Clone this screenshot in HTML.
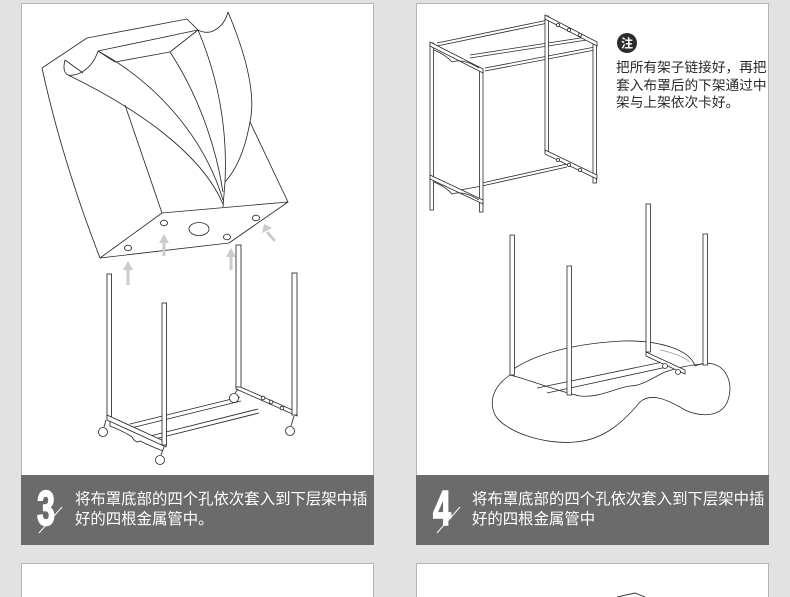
<!DOCTYPE html>
<html><head><meta charset="utf-8"><style>
html,body{margin:0;padding:0;background:#e2e2e2;}
svg{display:block;}
.t{font-family:"Liberation Sans","Noto Sans CJK SC",sans-serif;}
</style></head><body>
<svg width="790" height="597" viewBox="0 0 790 597" xmlns="http://www.w3.org/2000/svg">
<rect x="0" y="0" width="790" height="597" fill="#e2e2e2"/>
<!-- panels -->
<rect x="21.5" y="3.5" width="352" height="472" fill="#fff" stroke="#b4b4b4"/>
<rect x="416.5" y="3.5" width="352" height="472" fill="#fff" stroke="#b4b4b4"/>
<rect x="21" y="475" width="353" height="70" fill="#6b6b6b"/>
<rect x="416" y="475" width="353" height="70" fill="#6b6b6b"/>
<rect x="21.5" y="563.5" width="352" height="40" fill="#fff" stroke="#b4b4b4"/>
<rect x="416.5" y="563.5" width="352" height="40" fill="#fff" stroke="#b4b4b4"/>
<path d="M617,597 L635,593 L645,597" fill="none" stroke="#333" stroke-width="0.9"/>

<!-- LEFT: cover -->
<g fill="none" stroke="#2a2a2a" stroke-width="0.85" stroke-linejoin="round">
<path d="M42,68 Q62,160 100,258"/>
<path d="M42,68 L87,38 L187,19 L198,30 C204,33 210,33 215,30 C222,26 226,20 228,12"/>
<path d="M228,12 C246,55 256,95 250,122 C245,150 236,170 225,182"/>
<path d="M250,122 L288,202"/>
<path d="M100,258 L162,213 L288,202 L229,243 Z"/>
<path d="M98,51 L198,30"/>
<path d="M115,62 L170,52 L198,30"/>
<path d="M65,60 C63,68 64,73 68,75 C76,77 92,70 98,51"/>
<path d="M65,60 L83,73"/>
<path d="M98,51 L115,62"/>
<path d="M68,75 C130,105 200,150 223,204"/>
<path d="M98,51 C160,85 205,140 223,200"/>
<path d="M170,52 C195,90 215,140 223,192"/>
<path d="M198,30 C215,70 228,120 225,182 L223,207"/>
<path d="M125,105 L162,213"/>
<ellipse cx="128" cy="248" rx="3.5" ry="2.8"/>
<ellipse cx="164" cy="223" rx="3.5" ry="2.8"/>
<ellipse cx="199" cy="229" rx="10" ry="6.5"/>
<ellipse cx="227" cy="237" rx="3.5" ry="2.8"/>
<ellipse cx="256" cy="218" rx="3.5" ry="2.8"/>
</g>
<!-- gray arrows -->
<g fill="#cbcbcb" stroke="none">
<rect x="126.5" y="268" width="3" height="17"/><path d="M123,270 L128,261 L133,270 Z"/>
<rect x="162.5" y="241" width="3" height="15"/><path d="M159,243 L164,234 L169,243 Z"/>
<rect x="229.5" y="255" width="3" height="15"/><path d="M226,257 L231,248 L236,257 Z"/>
<path d="M276,240 L268,231 L266,233 L274,242 Z"/><path d="M262,233 L264,224 L272,228 Z"/>
</g>

<!-- LEFT: rack -->
<g fill="#fff" stroke="#2a2a2a" stroke-width="0.85">
<!-- back base bar -->
<path d="M236,385 L297,412 L297,416 L236,389 Z"/>
<!-- rods -->
<path d="M130,424 L240,397 M131,428 L241,401" fill="none"/>
<path d="M150,436 L258,409 M151,440 L259,413" fill="none"/>
<rect x="236" y="245" width="5" height="142"/>
<rect x="292" y="273" width="5" height="142"/>
<rect x="107" y="274" width="4.5" height="143"/>
<!-- front base bar -->
<path d="M107,415 L166,442 L166,447 L107,420 Z"/>
<path d="M110,421 L110,426 Q125,432 132,437 Q136,444 140,441 Q150,446 163,451" fill="none"/>
<rect x="162" y="303" width="4.5" height="142"/>
<!-- casters -->
<path d="M106,420 L104,427 M164,447 L161,455 M238,389 L235,393 M294,416 L291,426" fill="none"/>
<circle cx="103" cy="432" r="4.5"/><circle cx="160" cy="460" r="4.5"/>
<circle cx="234" cy="398" r="4.5"/><circle cx="290" cy="431" r="4.5"/>
<circle cx="263" cy="398" r="1.8"/><circle cx="271" cy="402" r="1.8"/><circle cx="282" cy="408" r="1.8"/>
</g>

<!-- RIGHT: frame -->
<g fill="#fff" stroke="#2a2a2a" stroke-width="0.8">
<path d="M437,43 L548,20 M437,46 L548,23" fill="none"/>
<path d="M470,55 L587,37 M470,58 L587,40" fill="none"/>
<path d="M485,68 L595,47 M485,71 L595,50" fill="none"/>
<path d="M482,183 L567,164 M482,186 L567,167" fill="none"/>
<path d="M460,190 L482,186" fill="none"/>
<rect x="545" y="16" width="3.5" height="136"/>
<rect x="593" y="43" width="3.5" height="140"/>
<path d="M545,150 L597,175 L597,179 L545,154 Z"/>
<path d="M545,15 L597,42 L597,46 L545,19 Z"/>
<rect x="430" y="43" width="3.5" height="167"/>
<rect x="479.5" y="70" width="3.5" height="142"/>
<path d="M430,42 L483,69 L483,73 L430,46 Z"/>
<path d="M430,175 L483,200 L483,204 L430,179 Z"/>
<path d="M434,50 Q446,55 452,62 Q463,58 479,68" fill="none"/>
<path d="M434,182 Q446,187 452,194 Q463,190 479,200" fill="none"/>
<circle cx="558" cy="25" r="1.6"/><circle cx="569" cy="30" r="1.6"/><circle cx="580" cy="35" r="1.6"/>
<circle cx="558" cy="160" r="1.6"/><circle cx="569" cy="165" r="1.6"/><circle cx="580" cy="170" r="1.6"/>
</g>

<!-- RIGHT: fabric + poles -->
<g fill="#fff" stroke="#2a2a2a" stroke-width="0.8">
<path d="M510,375 C495,385 488,400 495,415 C505,432 545,445 575,442 C605,440 625,420 640,402 C650,393 665,398 685,410 C700,417 722,418 728,400 C733,385 728,368 713,364 C705,362 700,364 695,366 C690,350 660,340 623,341 C580,343 540,352 515,368 Z"/>
<path d="M510,375 C530,380 560,392 580,396 C600,398 615,388 630,386 C642,386 652,378 665,372 C680,367 690,365 703,364" fill="none"/>
<path d="M537,388 L663,362 M547,393 L667,367" fill="none"/>
<path d="M646,352 L685,370 L685,374 L646,356 Z"/>
<path d="M660,350 C675,353 685,358 690,362" fill="none" stroke="#999"/>
<circle cx="665" cy="366" r="2.5"/><circle cx="678" cy="372" r="2.5"/>
<rect x="510" y="235" width="4.5" height="140"/>
<rect x="567" y="266" width="4.5" height="129"/>
<rect x="646" y="204" width="4.5" height="148"/>
<rect x="703" y="234" width="4.5" height="131"/>
</g>

<!-- note -->
<circle cx="627" cy="43" r="10" fill="#2b2b2b"/>
<text x="627" y="47.5" class="t" font-size="12" font-weight="bold" fill="#fff" text-anchor="middle">注</text>
<g class="t" font-size="13.7" fill="#2a2a2a">
<text x="616" y="72">把所有架子链接好，再把</text>
<text x="616" y="90">套入布罩后的下架通过中</text>
<text x="616" y="107">架与上架依次卡好。</text>
</g>

<!-- captions -->
<g class="t" fill="#fff">
<text x="0" y="0" font-size="49" font-weight="bold" stroke="#fff" stroke-width="1.6" transform="translate(37,525) scale(0.66,1)">3</text>
<text x="0" y="0" font-size="49" font-weight="bold" stroke="#fff" stroke-width="1.6" transform="translate(433,525) scale(0.66,1)">4</text>
<text x="75" y="504" font-size="15.4">将布罩底部的四个孔依次套入到下层架中插</text>
<text x="75" y="524" font-size="15.4">好的四根金属管中。</text>
<text x="472" y="504" font-size="15.4">将布罩底部的四个孔依次套入到下层架中插</text>
<text x="472" y="524" font-size="15.4">好的四根金属管中</text>
</g>
<path d="M39,533 L62,507" stroke="#fff" stroke-width="1"/>
<path d="M437,533 L460,507" stroke="#fff" stroke-width="1"/>
</svg>
</body></html>
